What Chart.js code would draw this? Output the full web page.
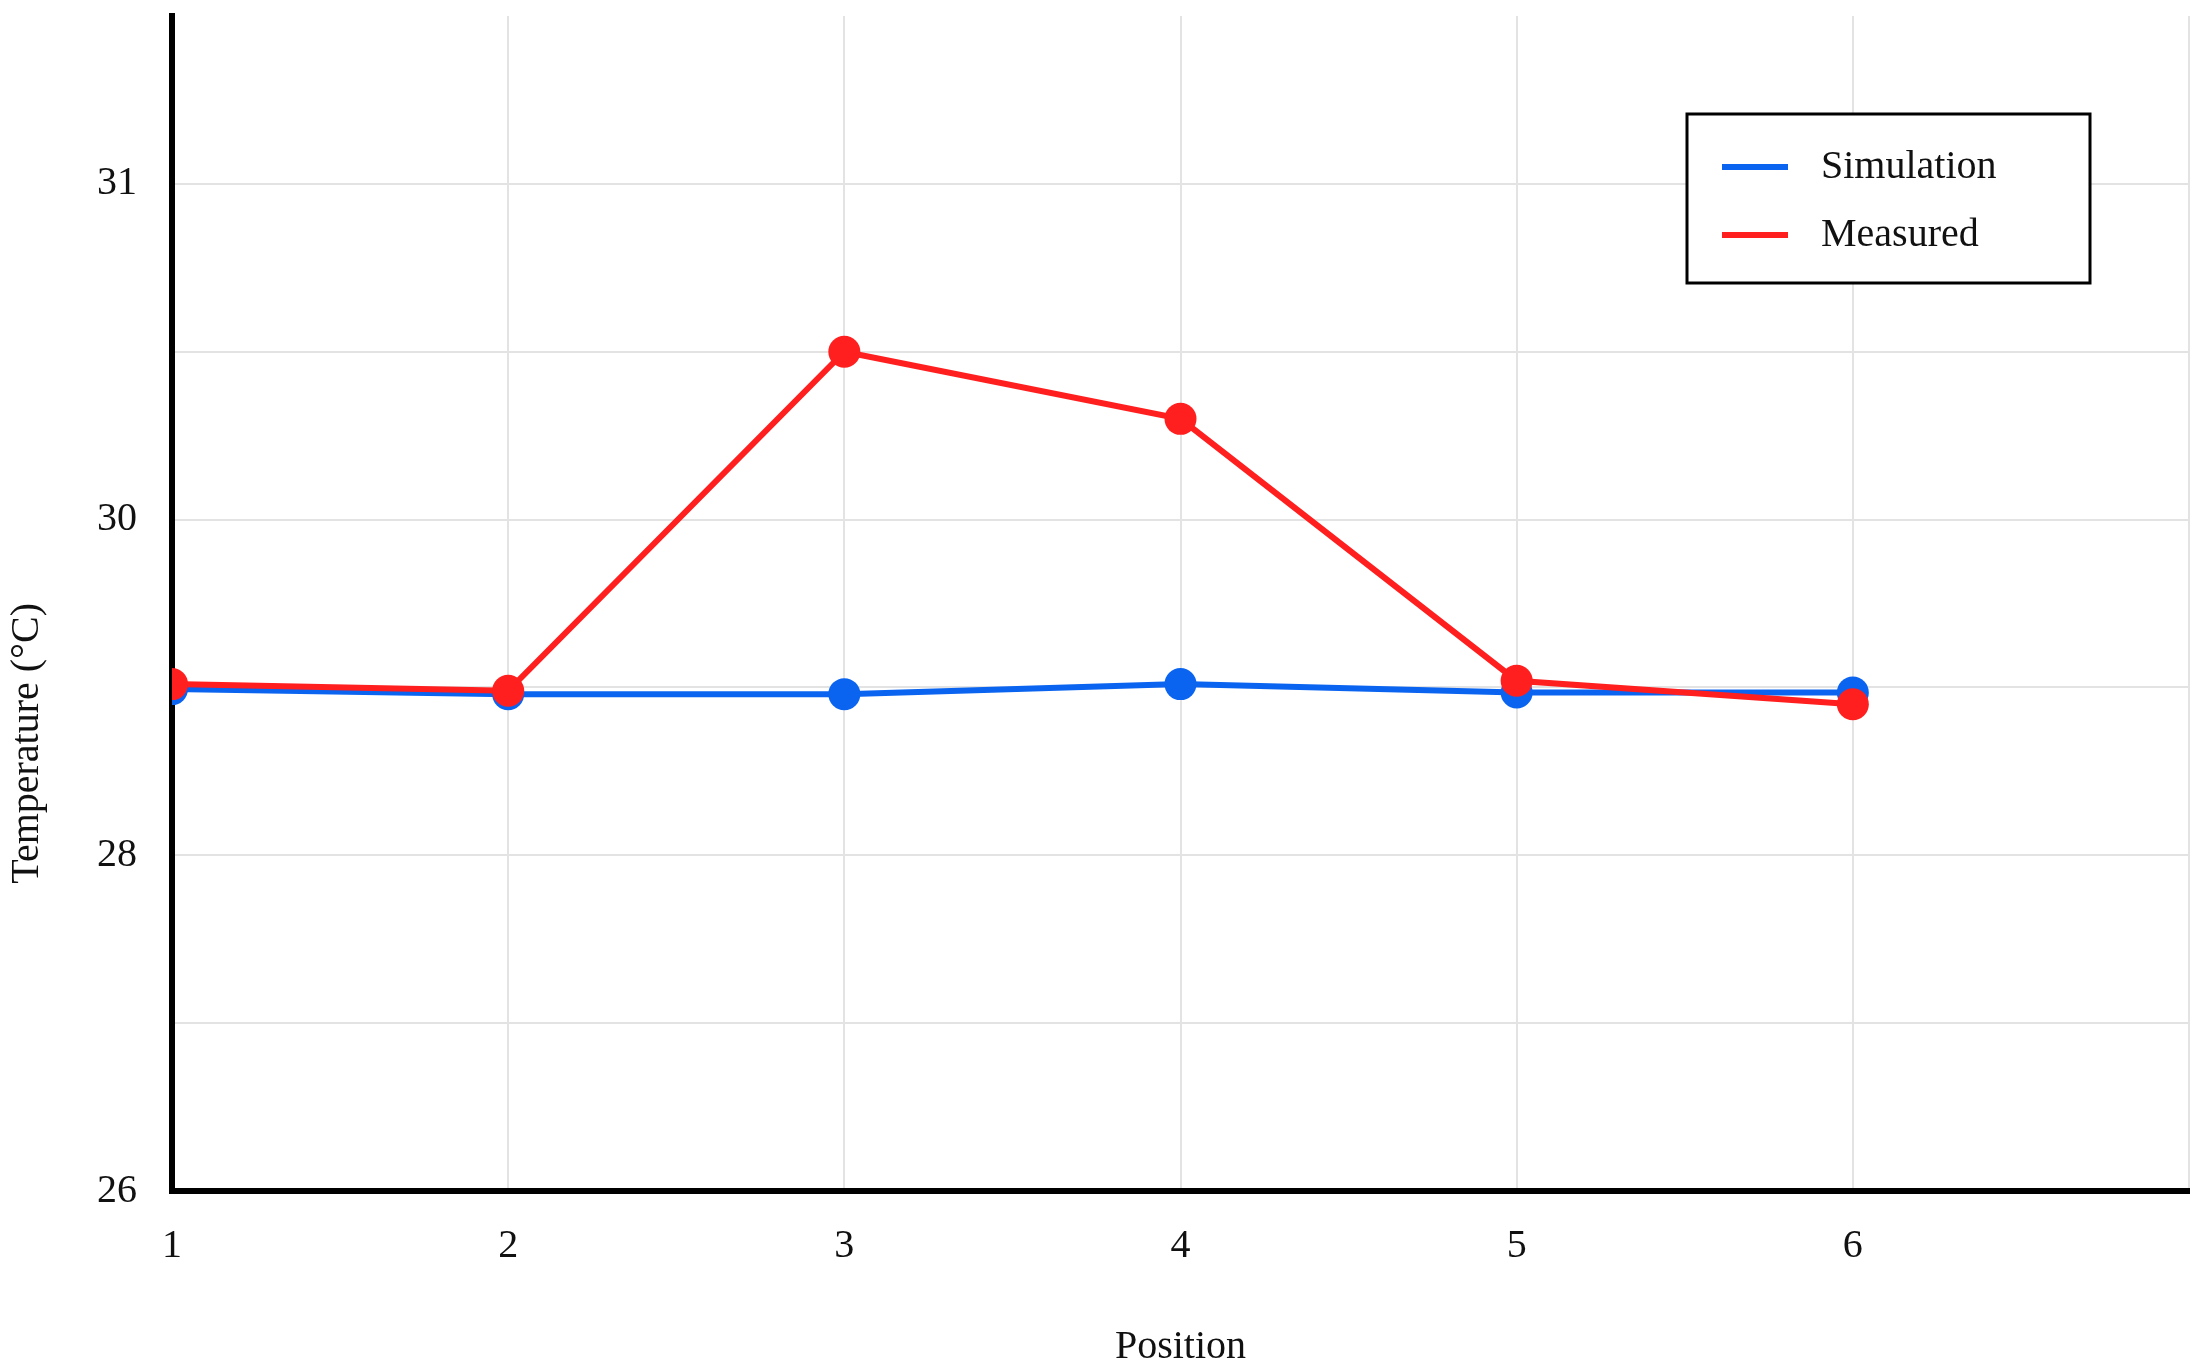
<!DOCTYPE html>
<html>
<head>
<meta charset="utf-8">
<script src="https://cdn.jsdelivr.net/npm/chart.js@4.4.0/dist/chart.umd.min.js"></script>
<style>
  html, body { margin: 0; padding: 0; background: #fff; }
  #wrap { width: 2205px; height: 1371px; }
</style>
</head>
<body>
<div id="wrap"><canvas id="chart"></canvas></div>
<script>
const positions = [1, 2, 3, 4, 5, 6];
const simulation = [28.99, 28.96, 28.96, 29.02, 28.97, 28.97];
const measured = [29.02, 28.98, 31.0, 30.6, 29.04, 28.9];
// tick labels for x = 1..7 and y = 26..33 (the picture labels the top line "31")
const xTickLabels = ['1', '2', '3', '4', '5', '6', ''];
const yTickLabels = ['26', '', '28', '', '30', '', '31', ''];

const serif = '"Liberation Serif", "Times New Roman", serif';

// boxed legend in the upper right of the plot
const boxLegend = {
  id: 'boxLegend',
  afterDraw(chart) {
    const { ctx, chartArea } = chart;
    const w = 403, h = 169;
    const x = chartArea.right - 99 - w;
    const y = chartArea.top + 98;
    ctx.save();
    ctx.fillStyle = '#fff';
    ctx.fillRect(x, y, w, h);
    ctx.lineWidth = 3;
    ctx.strokeStyle = '#000';
    ctx.strokeRect(x, y, w, h);
    ctx.font = '40px ' + serif;
    ctx.textBaseline = 'middle';
    chart.data.datasets.forEach((ds, i) => {
      const cy = y + 53 + i * 68;
      ctx.strokeStyle = ds.borderColor;
      ctx.lineWidth = 6;
      ctx.beginPath();
      ctx.moveTo(x + 35, cy);
      ctx.lineTo(x + 101, cy);
      ctx.stroke();
      ctx.fillStyle = '#111';
      ctx.fillText(ds.label, x + 134, cy);
    });
    ctx.restore();
  }
};

// y title sits lower than the axis middle in the original
const yTitle = {
  id: 'yTitle',
  afterDraw(chart) {
    const { ctx, chartArea } = chart;
    ctx.save();
    ctx.translate(27, chartArea.top + (chartArea.bottom - chartArea.top) * 0.619);
    ctx.rotate(-Math.PI / 2);
    ctx.font = '40px ' + serif;
    ctx.fillStyle = '#111';
    ctx.textAlign = 'center';
    ctx.textBaseline = 'middle';
    ctx.fillText('Temperature (°C)', 0, 0);
    ctx.restore();
  }
};

new Chart(document.getElementById('chart'), {
  type: 'line',
  data: {
    datasets: [
      {
        label: 'Simulation',
        data: positions.map((p, i) => ({ x: p, y: simulation[i] })),
        borderColor: '#0a64f0',
        backgroundColor: '#0a64f0',
        borderWidth: 6,
        pointRadius: 16,
        pointBorderWidth: 0,
        order: 1
      },
      {
        label: 'Measured',
        data: positions.map((p, i) => ({ x: p, y: measured[i] })),
        borderColor: '#ff1f1f',
        backgroundColor: '#ff1f1f',
        borderWidth: 6,
        pointRadius: 16,
        pointBorderWidth: 0,
        order: 0
      }
    ]
  },
  options: {
    responsive: true,
    maintainAspectRatio: false,
    animation: false,
    devicePixelRatio: 1,
    layout: { padding: { top: 14, right: 15, left: 0, bottom: 0 } },
    plugins: {
      legend: { display: false },
      tooltip: { enabled: false }
    },
    scales: {
      x: {
        type: 'linear',
        min: 1,
        max: 7,
        afterFit: s => {
          s.height = 180;
          s.paddingLeft = 0;
          s.paddingRight = 0;
        },
        ticks: {
          stepSize: 1,
          callback: v => xTickLabels[v - 1],
          font: { family: serif, size: 40 },
          color: '#111',
          padding: 31,
          maxRotation: 0
        },
        grid: { color: '#e3e3e3', lineWidth: 2, drawTicks: false },
        border: { color: '#000', width: 6 },
        title: {
          display: true,
          text: 'Position',
          font: { family: serif, size: 40 },
          color: '#111',
          padding: { top: 0, bottom: 0 }
        }
      },
      y: {
        min: 26,
        max: 33,
        afterFit: s => {
          s.width = 172;
          s.paddingTop = 0;
          s.paddingBottom = 0;
        },
        ticks: {
          stepSize: 1,
          callback: v => yTickLabels[v - 26],
          font: { family: serif, size: 40 },
          color: '#111',
          padding: 35
        },
        grid: {
          color: c => (c.tick && c.tick.value === 33 ? 'rgba(0,0,0,0)' : '#e3e3e3'),
          lineWidth: 2,
          drawTicks: false
        },
        border: { color: '#000', width: 6 }
      }
    }
  },
  plugins: [boxLegend, yTitle]
});
</script>
</body>
</html>
